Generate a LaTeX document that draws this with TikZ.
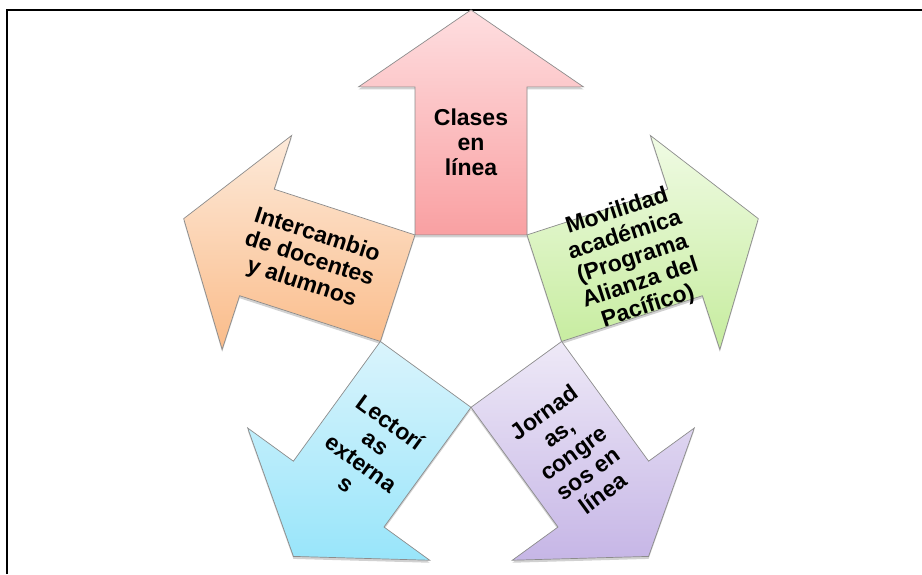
\documentclass[tikz,border=0pt]{standalone}
\usepackage{fontspec}
\setmainfont{Liberation Sans}
\usetikzlibrary{calc,shadows}
\definecolor{pinkT}{RGB}{254,222,224}
\definecolor{pinkB}{RGB}{249,160,162}
\definecolor{oranT}{RGB}{253,234,218}
\definecolor{oranB}{RGB}{250,188,138}
\definecolor{greenT}{RGB}{240,251,228}
\definecolor{greenB}{RGB}{198,236,158}
\definecolor{blueT}{RGB}{218,244,252}
\definecolor{blueB}{RGB}{152,229,250}
\definecolor{purT}{RGB}{238,233,247}
\definecolor{purB}{RGB}{198,182,230}
\newcommand\myarrow[1]{($(C)+(#1:77.1)+({#1-90}:56)$) -- ($(C)+(#1:225.1)+({#1-90}:56)$) -- ($(C)+(#1:225.1)+({#1-90}:112.5)$) -- ($(C)+(#1:302.1)$) -- ($(C)+(#1:225.1)+({#1+90}:112.5)$) -- ($(C)+(#1:225.1)+({#1+90}:56)$) -- ($(C)+(#1:77.1)+({#1+90}:56)$) -- cycle}
\begin{document}
\begin{tikzpicture}[x=1pt,y=1pt,
  arr/.style={draw=black!45, line width=0.7pt, line join=miter,
    drop shadow={shadow xshift=0pt, shadow yshift=-2.5pt, opacity=0.18, fill=black}},
  lbl/.style={align=center, font=\fontsize{23}{25}\selectfont\bfseries, inner sep=0pt},
  fr/.style={line width=2pt, draw=black}]
\useasboundingbox (0,0) rectangle (922,574);
\coordinate (C) at (471,262);
\coordinate (f1) at (7,0);
\coordinate (f2) at (7,563.5);
\coordinate (f3) at (922,563.5);
\draw[fr] (f1) -- (f2) -- (f3);
\path[arr, top color=pinkT, bottom color=pinkB] \myarrow{90};
\path[arr, top color=oranT, bottom color=oranB] \myarrow{162};
\path[arr, top color=greenT, bottom color=greenB] \myarrow{18};
\path[arr, top color=blueT, bottom color=blueB] \myarrow{234};
\path[arr, top color=purT, bottom color=purB] \myarrow{306};
\node[lbl] (t1) at ($(C)+(90:170)$) {Clases\\en\\línea};
\node[lbl, rotate=-18] (t2) at ($(C)+(162:170)$) {Intercambio\\de docentes\\y alumnos};
\node[lbl, rotate=18] (t3) at ($(C)+(18:170)$) {Movilidad\\académica\\(Programa\\Alianza del\\Pacífico)};
\node[lbl, rotate=-36] (t4) at ($(C)+(234:174)$) {Lectorí\\as\\externa\\s};
\node[lbl, rotate=36] (t5) at ($(C)+(306:174)$) {Jornad\\as,\\congre\\sos en\\línea};
\end{tikzpicture}
\end{document}
